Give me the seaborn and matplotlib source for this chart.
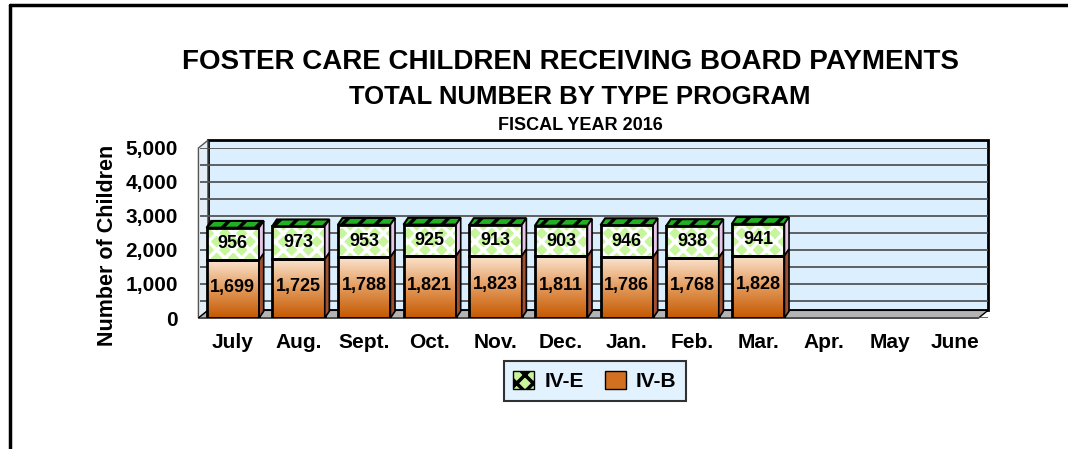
import numpy as np
import pandas as pd
import matplotlib
matplotlib.use("Agg")
import matplotlib.pyplot as plt
import seaborn as sns
from matplotlib.patches import Polygon, Patch, Rectangle
from matplotlib.colors import LinearSegmentedColormap
from matplotlib.ticker import FuncFormatter, MultipleLocator
from matplotlib.lines import Line2D

months = ["July", "Aug.", "Sept.", "Oct.", "Nov.", "Dec.", "Jan.", "Feb.", "Mar.", "Apr.", "May", "June"]
iv_b = [1699, 1725, 1788, 1821, 1823, 1811, 1786, 1768, 1828]
iv_e = [956, 973, 953, 925, 913, 903, 946, 938, 941]

sns.set_theme(style="white")
plt.rcParams["font.family"] = ["Liberation Sans", "DejaVu Sans"]
plt.rcParams["font.weight"] = "bold"
plt.rcParams["hatch.linewidth"] = 2.5
for k in ["text.color", "axes.labelcolor", "xtick.color", "ytick.color"]:
    plt.rcParams[k] = "black"

n = len(iv_b)
df = pd.DataFrame({"month": months[:n], "IV-B": iv_b, "IV-E": iv_e})
df["total"] = df["IV-B"] + df["IV-E"]

W, H = 1068, 449
fig = plt.figure(figsize=(W / 100, H / 100), dpi=100)
fig.patch.set_facecolor("white")

# page frame (top and left only)
fig.add_artist(Line2D([10 / W, 10 / W], [0, 1 - 5 / H], color="black", lw=2.5, transform=fig.transFigure))
fig.add_artist(Line2D([10 / W, 1], [1 - 5 / H, 1 - 5 / H], color="black", lw=2.5, transform=fig.transFigure))

ax = fig.add_axes([200 / W, (H - 318) / H, 788 / W, 170 / H])
ax.set_facecolor("none")

# 3D-ish walls
wall = "#dcefff"
ax.add_patch(Polygon([(0.01, 0.045), (0.01, 1.045), (1.0, 1.045), (1.0, 0.045)], closed=True,
                     transform=ax.transAxes, facecolor=wall, edgecolor="black", lw=2, zorder=0, clip_on=False))
ax.add_patch(Polygon([(-0.002, 0), (0.01, 0.045), (0.01, 1.045), (-0.002, 1.0)], closed=True,
                     transform=ax.transAxes, facecolor="#e4eef6", edgecolor="#555555", lw=1, zorder=0, clip_on=False))
ax.add_patch(Polygon([(-0.002, 0), (0.01, 0.045), (1.0, 0.045), (0.988, 0)], closed=True,
                     transform=ax.transAxes, facecolor="#b4b4b4", edgecolor="black", lw=1, zorder=0.5, clip_on=False))

# stacked bars: totals (IV-E on top) then IV-B
sns.barplot(data=df, x="month", y="total", order=months, color="#c6f59c", width=0.8,
            saturation=1, ax=ax, zorder=2)
tot_patches = list(ax.patches[3:])
for p in tot_patches:
    p.set_hatch("xx")
    p.set_edgecolor("white")
    p.set_linewidth(0)

sns.barplot(data=df, x="month", y="IV-B", order=months, color="#e09050", width=0.8,
            saturation=1, ax=ax, zorder=3)
b_patches = list(ax.patches[3 + len(tot_patches):])

cmap = LinearSegmentedColormap.from_list("orng", ["#c45800", "#e39a5c", "#fbe4cf"])
grad = np.linspace(0, 1, 256).reshape(-1, 1)

dx, dy = 0.07, 200
for p, q in zip(tot_patches, b_patches):
    x0, w = p.get_x(), p.get_width()
    top, hb = p.get_height(), q.get_height()
    # gradient for IV-B
    q.set_facecolor("none")
    q.set_edgecolor("black")
    q.set_linewidth(2)
    im = ax.imshow(grad, cmap=cmap, origin="lower", aspect="auto",
                   extent=(x0, x0 + w, 0, hb), zorder=2.5)
    im.set_clip_path(q)
    # outline of IV-E segment
    ax.add_patch(Rectangle((x0, hb), w, top - hb, fill=False, edgecolor="black", lw=2, zorder=4))
    # top cap
    ax.add_patch(Polygon([(x0, top), (x0 + dx, top + dy), (x0 + w + dx, top + dy), (x0 + w, top)],
                         closed=True, facecolor="#22b022", edgecolor="black", lw=1.5,
                         hatch="//", zorder=4, clip_on=False))
    # side faces
    ax.add_patch(Polygon([(x0 + w, hb), (x0 + w + dx, hb + dy), (x0 + w + dx, top + dy), (x0 + w, top)],
                         closed=True, facecolor="#e8c6e8", edgecolor="black", lw=1.2, zorder=4))
    ax.add_patch(Polygon([(x0 + w, 0), (x0 + w + dx, dy), (x0 + w + dx, hb + dy), (x0 + w, hb)],
                         closed=True, facecolor="#a05030", edgecolor="black", lw=1.2, zorder=4))
    cx = x0 + w / 2
    ax.text(cx, hb / 2 + 60, f"{hb:,.0f}", ha="center", va="center", fontsize=13, fontweight="bold", zorder=5)
    ax.text(cx, hb + (top - hb) / 2, f"{top - hb:,.0f}", ha="center", va="center", fontsize=13,
            fontweight="bold", zorder=5)

ax.set_xlim(-0.5, len(months) - 0.5)
ax.set_ylim(0, 5000)
ax.yaxis.set_major_locator(MultipleLocator(1000))
ax.yaxis.set_minor_locator(MultipleLocator(500))
ax.yaxis.set_major_formatter(FuncFormatter(lambda v, _: f"{v:,.0f}"))
ax.grid(axis="y", which="both", color="#555555", lw=1.3, zorder=1)
ax.set_axisbelow(True)
for s in ax.spines.values():
    s.set_visible(False)
ax.tick_params(axis="y", labelsize=15, pad=16, length=0)
ax.tick_params(axis="x", labelsize=15, pad=11, length=0)
for t in ax.get_xticklabels() + ax.get_yticklabels():
    t.set_fontweight("bold")
ax.set_xlabel("")
ax.set_ylabel("Number of Children", fontsize=15.5, fontweight="bold")
ax.yaxis.set_label_coords(-0.104, 0.43)

fig.text(571 / W, 1 - 62 / H, "FOSTER CARE CHILDREN RECEIVING BOARD PAYMENTS", ha="center", va="center",
         fontsize=20, fontweight="bold")
fig.text(580 / W, 1 - 97 / H, "TOTAL NUMBER BY TYPE PROGRAM", ha="center", va="center",
         fontsize=18.5, fontweight="bold")
fig.text(580 / W, 1 - 125 / H, "FISCAL YEAR 2016", ha="center", va="center",
         fontsize=13, fontweight="bold")

handles = [Patch(facecolor="#c6f59c", edgecolor="black", hatch="xx", label="IV-E"),
           Patch(facecolor="#d07020", edgecolor="black", label="IV-B")]
leg = fig.legend(handles=handles, loc="center", bbox_to_anchor=(595 / W, 1 - 381 / H), ncol=2,
                 frameon=True, fancybox=False, fontsize=15, handlelength=1.0, handleheight=1.0,
                 columnspacing=1.0, handletextpad=0.5, borderpad=0.45)
leg.get_frame().set_facecolor("#dcefff")
leg.get_frame().set_edgecolor("black")
leg.get_frame().set_linewidth(1.5)
for t in leg.get_texts():
    t.set_fontweight("bold")

fig.savefig("out.png", dpi=100)
